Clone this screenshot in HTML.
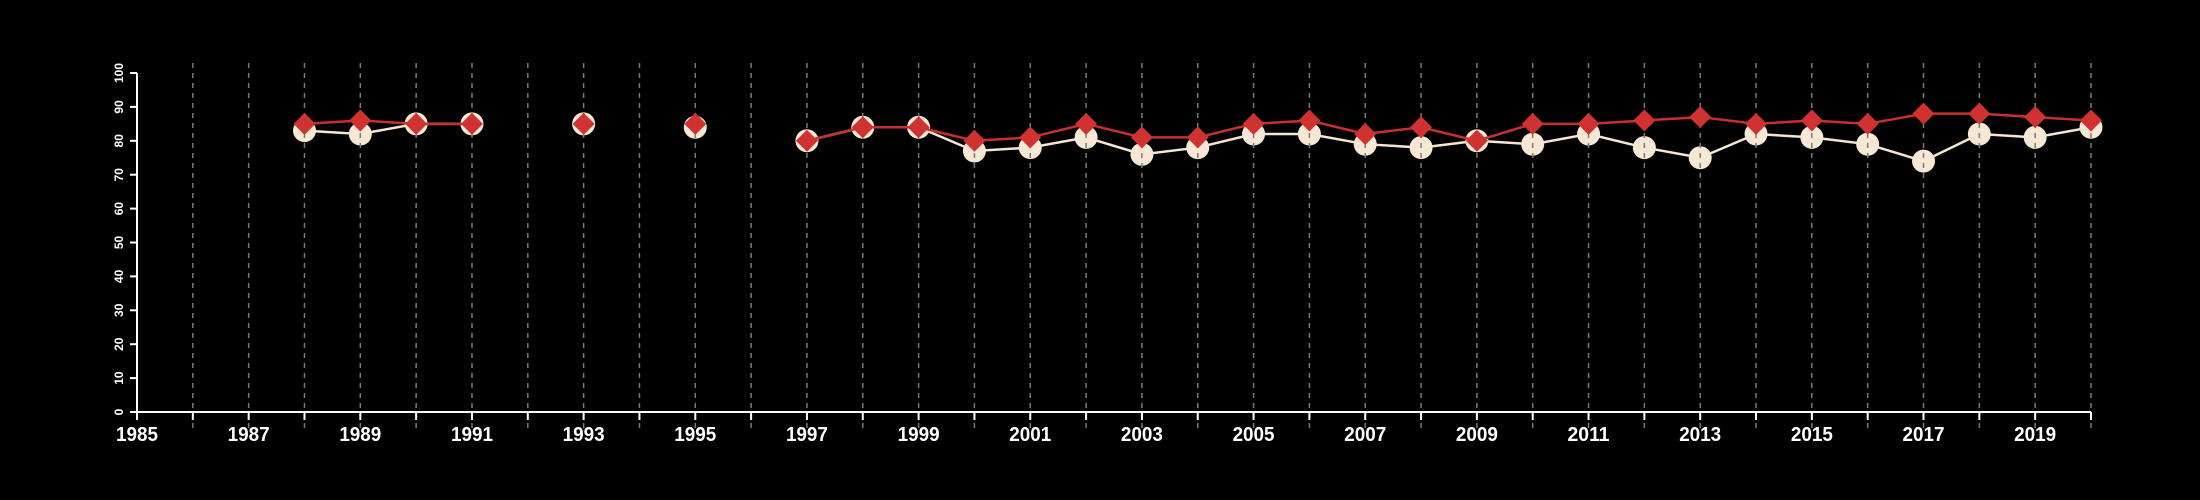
<!DOCTYPE html>
<html><head><meta charset="utf-8"><style>
html,body{margin:0;padding:0;background:#000;width:2200px;height:500px;overflow:hidden}
svg{display:block}
.xl{font-family:"Liberation Sans",sans-serif;font-weight:bold;font-size:20px;fill:#fff;text-anchor:middle}
.yl{font-family:"Liberation Sans",sans-serif;font-weight:bold;font-size:12px;fill:#fff;text-anchor:middle}
</style></head><body>
<svg id="chart" width="2200" height="500" xmlns="http://www.w3.org/2000/svg"></svg>
<script>
const whiteYears=[1988,1989,1990,1991,1993,1995,1997,1998,1999,2000,2001,2002,2003,2004,2005,2006,2007,2008,2009,2010,2011,2012,2013,2014,2015,2016,2017,2018,2019,2020];
const whiteValues=[83,82,85,85,85,84,80,84,84,77,78,81,76,78,82,82,79,78,80,79,82,78,75,82,81,79,74,82,81,84];
const redValues=[85,86,85,85,85,85,80,84,84,80,81,85,81,81,85,86,82,84,80,85,85,86,87,85,86,85,88,88,87,86];
const yTicks=[0,10,20,30,40,50,60,70,80,90,100];
const xLabelYears=[1985,1987,1989,1991,1993,1995,1997,1999,2001,2003,2005,2007,2009,2011,2013,2015,2017,2019];
const xMin=1985,xMax=2020,yMin=0,yMax=100;
const L=137,R=2091,T=73,B=412;
const sx=v=>L+(v-xMin)/(xMax-xMin)*(R-L);
const sy=v=>B-(v-yMin)/(yMax-yMin)*(B-T);
const svg=document.getElementById('chart');
const NS='http://www.w3.org/2000/svg';
function mk(tag,attrs){const e=document.createElementNS(NS,tag);for(const k in attrs)e.setAttribute(k,attrs[k]);svg.appendChild(e);return e;}
function segs(vals){const out=[];let cur=[];whiteYears.forEach((y,i)=>{if(i>0&&y-whiteYears[i-1]>1){out.push(cur);cur=[];}cur.push([sx(y),sy(vals[i])]);});out.push(cur);return out.filter(s=>s.length>1);}
segs(whiteValues).forEach(s=>{
  const p=mk('polyline',{points:s.map(q=>q.join(',')).join(' '),fill:'none',stroke:'#f5e6d3','stroke-width':2.5});
  
  
});
whiteYears.forEach((y,i)=>{
  const c=mk('circle',{cx:sx(y),cy:sy(whiteValues[i]),r:11.5,fill:'#f7e8d5'});
  
  
});
for(let y=1986;y<=2020;y++){
  const g=mk('line',{x1:sx(y),x2:sx(y),y1:63,y2:428,stroke:'#7a7a7a','stroke-width':1.5,'stroke-dasharray':'5,5'});
  
  
}
segs(redValues).forEach(s=>{
  const p=mk('polyline',{points:s.map(q=>q.join(',')).join(' '),fill:'none',stroke:'#c8302f','stroke-width':2.5});
  
  
});
whiteYears.forEach((y,i)=>{
  const x=sx(y),v=sy(redValues[i]),h=11,w=11;
  const d=mk('polygon',{points:`${x},${v-h} ${x+w},${v} ${x},${v+h} ${x-w},${v}`,fill:'#d03232'});
  
  
});
const ya=mk('line',{x1:L,x2:L,y1:T,y2:B,stroke:'#fff','stroke-width':2});


const xa=mk('line',{x1:L,x2:R,y1:B,y2:B,stroke:'#fff','stroke-width':2});


yTicks.forEach(t=>{
  const tk=mk('line',{x1:L-7,x2:L,y1:sy(t),y2:sy(t),stroke:'#fff','stroke-width':2});
  
  
  const tx=mk('text',{class:'yl',x:0,y:0,transform:`translate(119,${sy(t)}) rotate(-90)`,dy:'4'});
  tx.textContent=t;
  
  
});
for(let y=1985;y<=2020;y++){
  const tk=mk('line',{x1:sx(y),x2:sx(y),y1:B,y2:B+8,stroke:'#fff','stroke-width':2});
  
  
}
xLabelYears.forEach(y=>{
  const tx=mk('text',{class:'xl',x:sx(y),y:441,textLength:42,lengthAdjust:'spacingAndGlyphs'});
  tx.textContent=y;
  
  
});
</script>
</body></html>
